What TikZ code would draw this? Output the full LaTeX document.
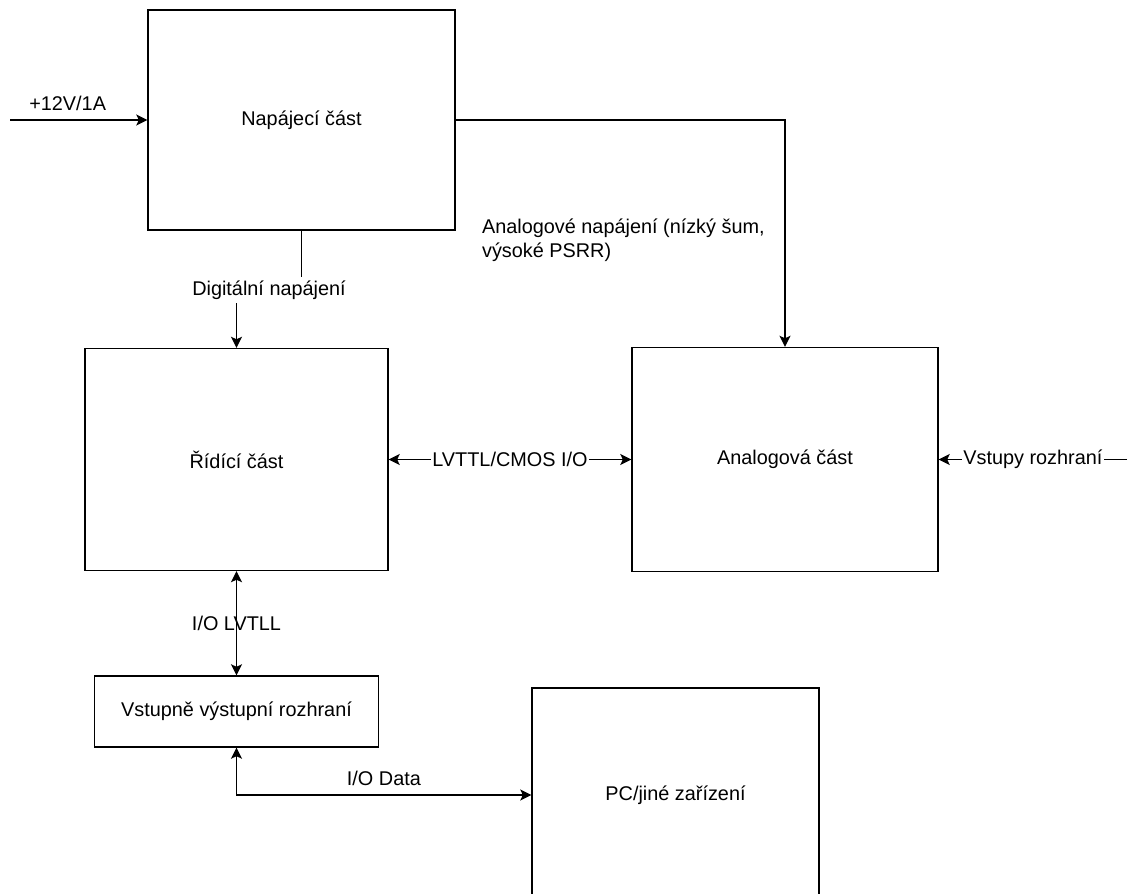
\documentclass[tikz,border=0pt]{standalone}
\usepackage{fontspec}
\setmainfont{Liberation Sans}
\usetikzlibrary{arrows.meta,positioning}

\begin{document}
\begin{tikzpicture}[
  box/.style={
    draw, line width=0.8pt, align=center, font=\fontsize{11.3}{13.6}\selectfont
  },
  arrow/.style={-{Stealth[length=2.2mm,width=2.2mm,inset=0.5mm]}, line width=0.8pt},
  biarrow/.style={{Stealth[length=2.2mm,width=2.2mm,inset=0.5mm]}-{Stealth[length=2.2mm,width=2.2mm,inset=0.5mm]}, line width=0.8pt},
  lbl/.style={font=\fontsize{11.3}{13.6}\selectfont, inner sep=1pt}
]
\useasboundingbox (0,0) rectangle (22.58,-17.88);
\clip (0,0) rectangle (22.58,-17.88);

\node[box, minimum width=6.14cm, minimum height=4.40cm] (power) at (6.03,-2.40) {Napájecí část};
\node[box, minimum width=6.06cm, minimum height=4.44cm] (ctrl) at (4.73,-9.19) {Řídící část};
\node[box, minimum width=6.12cm, minimum height=4.48cm] (analog) at (15.70,-9.19) {Analogová část};
\node[box, minimum width=5.68cm, minimum height=1.42cm] (io) at (4.73,-14.23) {Vstupně výstupní rozhraní};
\node[box, minimum width=5.74cm, minimum height=4.28cm] (pc) at (13.51,-15.90) {PC/jiné zařízení};

\coordinate (vin) at (0.2,-2.40);
\coordinate (ifin) at (22.54,-9.19);

\node[lbl, fill=white, minimum height=0.52cm] (dig) at (5.38,-5.80) {Digitální napájení};
\node[lbl, align=left, anchor=west] (anl) at (9.6,-4.80) {Analogové napájení (nízký šum,\\výsoké PSRR)};

\draw[arrow] (vin) -- node[lbl, above=4pt, pos=0.42] {+12V/1A} (power.west);
\draw[arrow] (power.east) -| (analog.north);
\draw[line width=0.8pt] (power.south) -- (dig.north -| power.south);
\draw[arrow] (dig.south -| ctrl.north) -- (ctrl.north);
\draw[biarrow] (ctrl.east) -- node[lbl, fill=white] {LVTTL/CMOS I/O} (analog.west);
\draw[arrow] (ifin) -- node[lbl, fill=white] {Vstupy rozhraní} (analog.east);
\draw[biarrow] (ctrl.south) -- node[lbl] {I/O LVTLL} (io.north);
\draw[biarrow] (io.south) |- node[lbl, above=4pt, pos=0.75] {I/O Data} (pc.west);
\end{tikzpicture}
\end{document}
